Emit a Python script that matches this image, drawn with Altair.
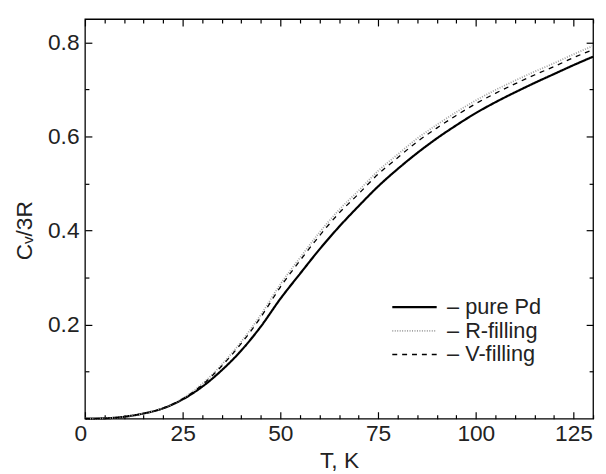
import altair as alt
import pandas as pd

# Temperature grid (K)
T = [0, 5, 10, 15, 20, 25, 30, 35, 40, 45, 50, 55, 60, 65, 70, 75, 80, 85, 90,
     95, 100, 105, 110, 115, 120, 125, 130]

# Cv/3R values
pure_pd = [0.0, 0.0006, 0.004, 0.011, 0.022, 0.041, 0.068, 0.103, 0.145, 0.196,
           0.255, 0.308, 0.360, 0.408, 0.452, 0.494, 0.531, 0.565, 0.596, 0.624,
           0.650, 0.673, 0.694, 0.714, 0.733, 0.752, 0.770]
r_filling = [0.0, 0.0006, 0.004, 0.011, 0.0225, 0.043, 0.074, 0.115, 0.164, 0.221,
             0.286, 0.342, 0.396, 0.444, 0.485, 0.527, 0.562, 0.596, 0.625, 0.652,
             0.677, 0.699, 0.719, 0.738, 0.756, 0.775, 0.793]
v_filling = [0.0, 0.0006, 0.004, 0.011, 0.0225, 0.042, 0.072, 0.112, 0.160, 0.216,
             0.280, 0.336, 0.389, 0.437, 0.478, 0.520, 0.555, 0.589, 0.618, 0.645,
             0.670, 0.692, 0.712, 0.731, 0.749, 0.768, 0.785]

series_names = ["pure Pd", "R-filling", "V-filling"]

x_major = [0, 25, 50, 75, 100, 125]
x_minor = [5, 10, 15, 20, 30, 35, 40, 45, 55, 60, 65, 70, 80, 85, 90, 95,
           105, 110, 115, 120, 130]
y_major = [0.2, 0.4, 0.6, 0.8]
y_minor = [0.1, 0.3, 0.5, 0.7]

rows = []
for name, vals in zip(series_names, [pure_pd, r_filling, v_filling]):
    for t, v in zip(T, vals):
        rows.append({"T": t, "Cv": v, "series": name})
df = pd.DataFrame(rows)

FONT = "Liberation Sans"
FS = 23
TXT = "#222222"

xs = alt.Scale(domain=[0, 130], nice=False, zero=False)
ys = alt.Scale(domain=[0, 0.85], nice=False, zero=False)


def ax(orient, values, size, labels=False, title=None, **kw):
    params = dict(
        orient=orient, values=values, tickSize=size, offset=-size,
        domain=False, grid=False, labels=labels, tickColor="black",
        tickWidth=1.2, title=title,
    )
    params.update(kw)
    return alt.Axis(**params)


# long horizontal line drawn with a small symbol size so rows stay compact
legend = alt.Legend(
    title=None, orient="none", legendX=323, legendY=281,
    symbolType="M-2.5,0H2.5", symbolSize=324, labelFontSize=22, labelFont=FONT,
    labelColor=TXT, labelOffset=22, rowPadding=2, padding=0,
    labelExpr="'\u2013 ' + datum.label",
)

color_enc = alt.Color("series:N", scale=alt.Scale(domain=series_names,
                      range=["#000000", "#a0a0a0", "#000000"]), legend=legend)
dash_enc = alt.StrokeDash("series:N", scale=alt.Scale(domain=series_names,
                          range=[[1, 0], [1, 1.5], [5, 5]]), legend=legend)
width_enc = alt.StrokeWidth("series:N", scale=alt.Scale(domain=series_names,
                            range=[2.2, 1.3, 1.8]), legend=legend)

main = alt.Chart(df).mark_line(interpolate="monotone").encode(
    x=alt.X("T:Q", scale=xs, axis=ax(
        "bottom", x_major, 7, labels=True, title="T, K",
        labelFont=FONT, labelFontSize=FS, labelColor=TXT,
        labelPadding=4,
        labelOffset={"condition": {"test": "datum.value == 0", "value": -11}, "value": 0},
        titleFont=FONT, titleFontSize=FS, titleFontWeight="normal",
        titleColor=TXT, titlePadding=5)),
    y=alt.Y("Cv:Q", scale=ys, axis=ax(
        "left", y_major, 7, labels=True, title="C\u1d65/3R",
        labelFont=FONT, labelFontSize=FS, labelColor=TXT,
        labelPadding=6, titleFont=FONT, titleFontSize=FS,
        titleFontWeight="normal", titleColor=TXT, titlePadding=11,
        titleY=214)),
    color=color_enc,
    strokeDash=dash_enc,
    strokeWidth=width_enc,
    detail="series:N",
)


def ghost(xa, ya):
    return alt.Chart(df).mark_line(opacity=0).encode(
        x=alt.X("T:Q", scale=xs, axis=xa),
        y=alt.Y("Cv:Q", scale=ys, axis=ya),
        detail="series:N",
    )


g1 = ghost(ax("bottom", x_minor, 4), ax("left", y_minor, 4))
g2 = ghost(ax("top", x_major, 7), ax("right", y_major, 7))
g3 = ghost(ax("top", x_minor, 4), ax("right", y_minor, 4))

chart = alt.layer(main, g1, g2, g3).resolve_axis(
    x="independent", y="independent"
).properties(
    width=515, height=405,
    autosize=alt.AutoSizeParams(type="none"),
    padding={"left": 78, "top": 8, "right": 5, "bottom": 60},
).configure_view(stroke="black", strokeWidth=1.3)

chart.save("out.html", embed_options={"renderer": "svg", "actions": False})
